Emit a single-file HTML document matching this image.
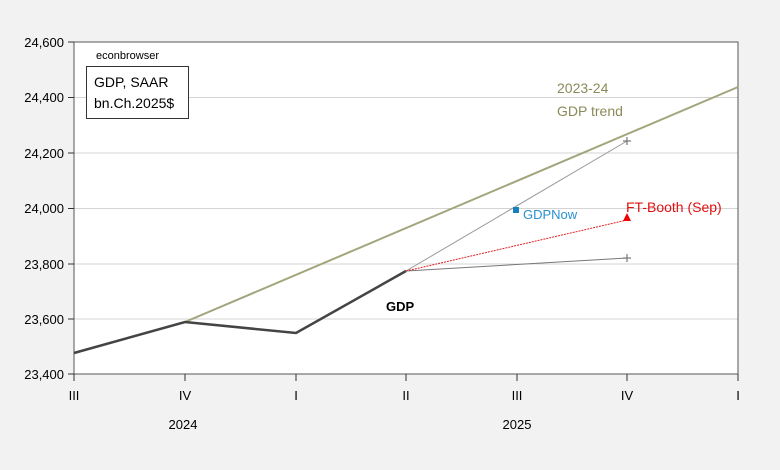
<!DOCTYPE html>
<html><head><style>body{margin:0;background:#f2f2f2}svg{display:block}text{font-family:"Liberation Sans",sans-serif}</style></head>
<body>
<svg width="780" height="470" viewBox="0 0 780 470">
<rect x="0" y="0" width="780" height="470" fill="#f2f2f2"/>
<rect x="74" y="42" width="664" height="332" fill="#fff"/>
<g stroke="#d4d4d4" stroke-width="1">
<line x1="74" y1="97.5" x2="738" y2="97.5"/><line x1="74" y1="153" x2="738" y2="153"/>
<line x1="74" y1="208.5" x2="738" y2="208.5"/><line x1="74" y1="264" x2="738" y2="264"/>
<line x1="74" y1="319" x2="738" y2="319"/>
</g>
<rect x="74" y="42" width="664" height="332" fill="none" stroke="#555" stroke-width="1"/>
<g stroke="#333" stroke-width="1">
<line x1="68" y1="42" x2="74" y2="42"/><line x1="68" y1="97.5" x2="74" y2="97.5"/><line x1="68" y1="153" x2="74" y2="153"/><line x1="68" y1="208.5" x2="74" y2="208.5"/><line x1="68" y1="264" x2="74" y2="264"/><line x1="68" y1="319" x2="74" y2="319"/><line x1="68" y1="374" x2="74" y2="374"/>
<line x1="74" y1="374" x2="74" y2="381"/><line x1="185" y1="374" x2="185" y2="381"/><line x1="296" y1="374" x2="296" y2="381"/><line x1="406" y1="374" x2="406" y2="381"/><line x1="517" y1="374" x2="517" y2="381"/><line x1="627" y1="374" x2="627" y2="381"/><line x1="738" y1="374" x2="738" y2="381"/>
</g>
<g font-size="13" fill="#000" text-anchor="end">
<text x="64" y="47">24,600</text><text x="64" y="102">24,400</text><text x="64" y="158">24,200</text><text x="64" y="213">24,000</text><text x="64" y="269">23,800</text><text x="64" y="324">23,600</text><text x="64" y="379">23,400</text>
</g>
<g font-size="13" fill="#000" text-anchor="middle">
<text x="74" y="400">III</text><text x="185" y="400">IV</text><text x="296" y="400">I</text><text x="406" y="400">II</text><text x="517" y="400">III</text><text x="627" y="400">IV</text><text x="738" y="400">I</text>
<text x="183" y="429">2024</text><text x="517" y="429">2025</text>
</g>
<line x1="185" y1="322" x2="738" y2="87" stroke="#a3a57c" stroke-width="2"/>
<line x1="406" y1="271" x2="627" y2="141" stroke="#999" stroke-width="1"/>
<line x1="406" y1="271" x2="627" y2="258" stroke="#777" stroke-width="1"/>
<line x1="406" y1="271" x2="627" y2="220" stroke="#e02020" stroke-width="1" stroke-dasharray="2,1"/>
<polyline points="74,353 185,322 296,333 406,271" fill="none" stroke="#444" stroke-width="2.5"/>
<g stroke="#777" stroke-width="1.2"><line x1="623" y1="141" x2="631" y2="141"/><line x1="627" y1="137" x2="627" y2="145"/><line x1="623" y1="258" x2="631" y2="258"/><line x1="627" y1="254" x2="627" y2="262"/></g>
<polygon points="627,213 623,221 631,221" fill="#e00"/>
<rect x="513" y="207" width="6" height="6" fill="#1a7fc0"/>
<text x="523" y="219" font-size="13" fill="#2a90d0">GDPNow</text>
<text x="626" y="212" font-size="14" fill="#e01010">FT-Booth (Sep)</text>
<text x="557" y="93" font-size="14" fill="#8a8a5a">2023-24</text>
<text x="557" y="116" font-size="14" fill="#8a8a5a">GDP trend</text>
<text x="386" y="311" font-size="13" font-weight="bold" fill="#000">GDP</text>
<text x="96" y="59" font-size="11" fill="#000">econbrowser</text>
<rect x="86.5" y="66.5" width="102" height="52" fill="#fff" stroke="#333"/>
<text x="94" y="87" font-size="14" fill="#000">GDP, SAAR</text>
<text x="94" y="108" font-size="14" fill="#000">bn.Ch.2025$</text>
</svg>
</body></html>
